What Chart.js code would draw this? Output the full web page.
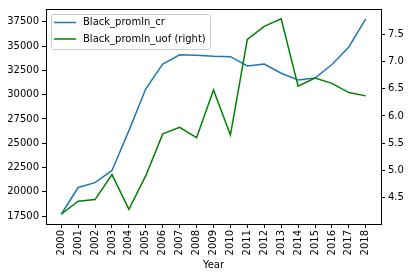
<!DOCTYPE html>
<html>
<head>
<meta charset="utf-8">
<script src="https://cdn.jsdelivr.net/npm/chart.js@4/dist/chart.umd.min.js"></script>
<style>
  body { margin: 0; background: #fff; }
  #box { width: 411px; height: 278px; }
</style>
</head>
<body>
<div id="box"><canvas id="grafico"></canvas></div>
<script>
var anos = [2000, 2001, 2002, 2003, 2004, 2005, 2006, 2007, 2008, 2009,
            2010, 2011, 2012, 2013, 2014, 2015, 2016, 2017, 2018];
var valoresCr = [17700, 20450, 20950, 22200, 26300, 30600, 33150, 34100, 34050, 33950,
                 33900, 32950, 33150, 32200, 31500, 31700, 33100, 34900, 37800];
var valoresUof = [4.19, 4.43, 4.46, 4.92, 4.28, 4.90, 5.67, 5.79, 5.60, 6.48,
                  5.65, 7.41, 7.65, 7.79, 6.55, 6.70, 6.60, 6.43, 6.37];
var ticksEsq = [17500, 20000, 22500, 25000, 27500, 30000, 32500, 35000, 37500];
var ticksDir = [4.5, 5.0, 5.5, 6.0, 6.5, 7.0, 7.5];
var nomes = ["Black_promln_cr", "Black_promln_uof (right)"];

var fonte = { family: "DejaVu Sans", size: 10 };

function pontos(vals) {
    return anos.map(function (a, i) { return { x: a, y: vals[i] }; });
}

// moldura (spines) e legenda desenhadas por cima
var moldura = {
    id: "moldura",
    afterDraw: function (chart) {
        var ctx = chart.ctx;
        var a = chart.chartArea;
        ctx.save();
        ctx.strokeStyle = "#000";
        ctx.lineWidth = 1;
        ctx.strokeRect(Math.round(a.left) + 0.5, Math.round(a.top) + 0.5,
                       Math.round(a.right - a.left), Math.round(a.bottom - a.top));

        // legenda
        var x0 = a.left + 5, y0 = a.top + 5, w = 159, h = 35;
        ctx.globalAlpha = 0.8;
        ctx.fillStyle = "#fff";
        ctx.beginPath();
        ctx.roundRect(x0 + 0.5, y0 + 0.5, w, h, 2);
        ctx.fill();
        ctx.globalAlpha = 1;
        ctx.strokeStyle = "#cccccc";
        ctx.stroke();
        ctx.font = "10px 'DejaVu Sans'";
        ctx.textBaseline = "middle";
        ctx.fillStyle = "#000";
        chart.data.datasets.forEach(function (ds, i) {
            var yy = y0 + 8.5 + i * 16.5;
            ctx.strokeStyle = ds.borderColor;
            ctx.lineWidth = 1.5;
            ctx.beginPath();
            ctx.moveTo(x0 + 3, yy);
            ctx.lineTo(x0 + 25, yy);
            ctx.stroke();
            ctx.fillText(ds.label, x0 + 32, yy);
        });
        ctx.restore();
    }
};

var config = {
    type: "line",
    data: {
        datasets: [
            {
                label: nomes[0],
                data: pontos(valoresCr),
                borderColor: "#1f77b4",
                borderWidth: 1.5,
                pointRadius: 0,
                tension: 0,
                yAxisID: "y",
                order: 1
            },
            {
                label: nomes[1],
                data: pontos(valoresUof),
                borderColor: "#008000",
                borderWidth: 1.5,
                pointRadius: 0,
                tension: 0,
                yAxisID: "y2",
                order: 0
            }
        ]
    },
    options: {
        responsive: true,
        maintainAspectRatio: false,
        animation: false,
        layout: { padding: { top: 7, left: 0, right: 0, bottom: 0 } },
        plugins: { legend: { display: false }, tooltip: { enabled: false } },
        scales: {
            x: {
                type: "linear",
                min: 1999.1,
                max: 2018.9,
                afterBuildTicks: function (s) { s.ticks = anos.map(function (v) { return { value: v }; }); },
                afterFit: function (s) { s.height = 54; },
                grid: { drawOnChartArea: false, color: "#000", tickLength: 4 },
                border: { display: true, color: "#000" },
                ticks: {
                    font: fonte, color: "#000", padding: 2,
                    maxRotation: 90, minRotation: 90, autoSkip: false,
                    callback: function (v) { return String(v); }
                },
                title: { display: true, text: "Year", font: fonte, color: "#000", padding: { top: 0, bottom: 7 } }
            },
            y: {
                position: "left",
                min: 16695,
                max: 38805,
                afterBuildTicks: function (s) { s.ticks = ticksEsq.map(function (v) { return { value: v }; }); },
                afterFit: function (s) { s.width = 46; },
                grid: { drawOnChartArea: false, color: "#000", tickLength: 4 },
                border: { display: true, color: "#000" },
                ticks: { font: fonte, color: "#000", padding: 3, callback: function (v) { return String(v); } }
            },
            y2: {
                position: "right",
                min: 4.01,
                max: 7.97,
                afterBuildTicks: function (s) { s.ticks = ticksDir.map(function (v) { return { value: v }; }); },
                afterFit: function (s) { s.width = 30; },
                grid: { drawOnChartArea: false, color: "#000", tickLength: 4 },
                border: { display: true, color: "#000" },
                ticks: { font: fonte, color: "#000", padding: 3, callback: function (v) { return v.toFixed(1); } }
            }
        }
    },
    plugins: [moldura]
};

var graficoLinhas = new Chart(document.getElementById("grafico"), config);
</script>
</body>
</html>
